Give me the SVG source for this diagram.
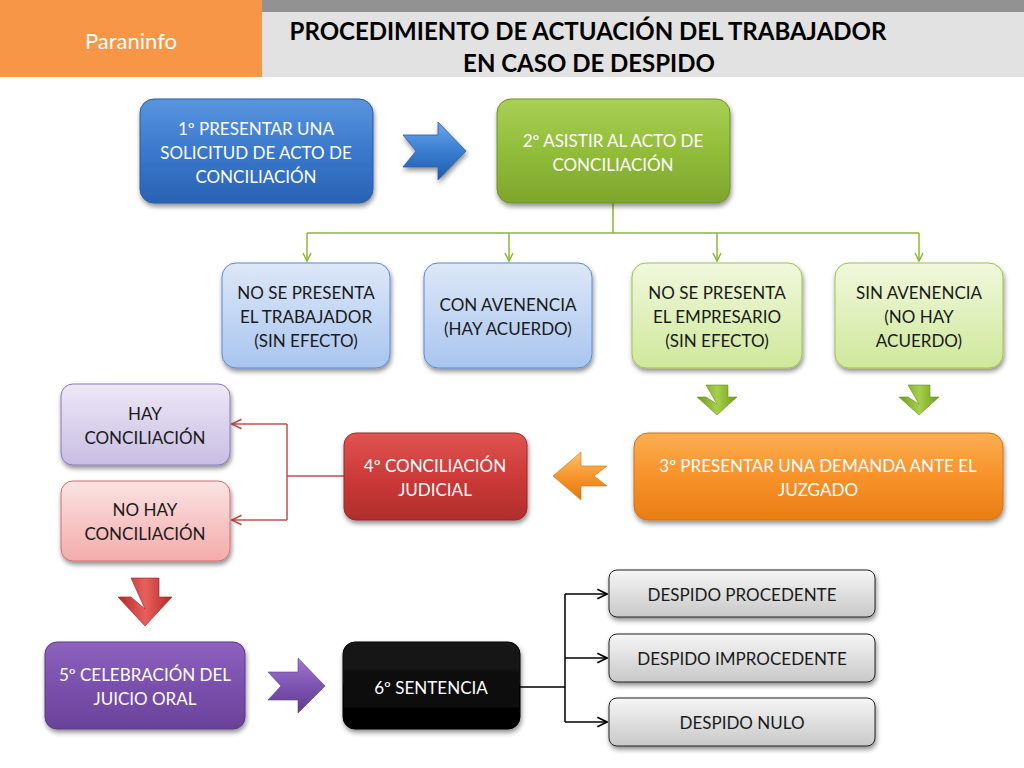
<svg xmlns="http://www.w3.org/2000/svg" width="1024" height="768" viewBox="0 0 1024 768">
<defs>
<style>
.t{font-family:Lato,"Liberation Sans",sans-serif;font-size:17px;text-anchor:middle;dominant-baseline:central}
.w{fill:#ffffff}
.d{fill:#1a1a1a}
.ttl{font-family:Lato,"Liberation Sans",sans-serif;font-size:24px;font-weight:bold;text-anchor:middle;fill:#000}
.box{filter:url(#sh)}
</style>
<filter id="sh" x="-10%" y="-10%" width="130%" height="140%">
<feGaussianBlur in="SourceAlpha" stdDeviation="2.5"/>
<feOffset dx="1" dy="3" result="o"/>
<feComponentTransfer><feFuncA type="linear" slope="0.45"/></feComponentTransfer>
<feMerge><feMergeNode/><feMergeNode in="SourceGraphic"/></feMerge>
</filter>
<linearGradient id="gBlue" x1="0" y1="0" x2="0" y2="1"><stop offset="0" stop-color="#5a95de"/><stop offset="0.5" stop-color="#3a78cc"/><stop offset="1" stop-color="#2a62b4"/></linearGradient>
<linearGradient id="gGreen" x1="0" y1="0" x2="0" y2="1"><stop offset="0" stop-color="#a9cf55"/><stop offset="0.5" stop-color="#92bd3a"/><stop offset="1" stop-color="#7da52c"/></linearGradient>
<linearGradient id="gLBlue" x1="0" y1="0" x2="0" y2="1"><stop offset="0" stop-color="#dde8f8"/><stop offset="1" stop-color="#a9c5ef"/></linearGradient>
<linearGradient id="gLGreen" x1="0" y1="0" x2="0" y2="1"><stop offset="0" stop-color="#f1f8dd"/><stop offset="1" stop-color="#cfe89a"/></linearGradient>
<linearGradient id="gOrange" x1="0" y1="0" x2="0" y2="1"><stop offset="0" stop-color="#fbae52"/><stop offset="0.5" stop-color="#f7922a"/><stop offset="1" stop-color="#ea7d14"/></linearGradient>
<linearGradient id="gRed" x1="0" y1="0" x2="0" y2="1"><stop offset="0" stop-color="#e05452"/><stop offset="0.5" stop-color="#cc3a38"/><stop offset="1" stop-color="#b02e2c"/></linearGradient>
<linearGradient id="gLav" x1="0" y1="0" x2="0" y2="1"><stop offset="0" stop-color="#ede8f6"/><stop offset="1" stop-color="#c9bde4"/></linearGradient>
<linearGradient id="gPink" x1="0" y1="0" x2="0" y2="1"><stop offset="0" stop-color="#fbe3e3"/><stop offset="1" stop-color="#f4abab"/></linearGradient>
<linearGradient id="gPurple" x1="0" y1="0" x2="0" y2="1"><stop offset="0" stop-color="#8e62bf"/><stop offset="0.5" stop-color="#7a50ad"/><stop offset="1" stop-color="#6a4299"/></linearGradient>
<linearGradient id="gBlack" x1="0" y1="0" x2="0" y2="1"><stop offset="0" stop-color="#1a1a1a"/><stop offset="1" stop-color="#000"/></linearGradient>
<linearGradient id="gGray" x1="0" y1="0" x2="0" y2="1"><stop offset="0" stop-color="#f6f6f6"/><stop offset="1" stop-color="#c8c8c8"/></linearGradient>
<linearGradient id="aBlue" x1="0" y1="0" x2="0" y2="1"><stop offset="0" stop-color="#6aa6ea"/><stop offset="0.5" stop-color="#3a7ed0"/><stop offset="1" stop-color="#1f5aa8"/></linearGradient>
<linearGradient id="aGreen" x1="0" y1="0" x2="1" y2="0"><stop offset="0" stop-color="#6f9a22"/><stop offset="0.5" stop-color="#a6d04a"/><stop offset="1" stop-color="#6f9a22"/></linearGradient>
<linearGradient id="aOrange" x1="0" y1="0" x2="0" y2="1"><stop offset="0" stop-color="#fcc46a"/><stop offset="0.5" stop-color="#f7952c"/><stop offset="1" stop-color="#e07810"/></linearGradient>
<linearGradient id="aRed" x1="0" y1="0" x2="1" y2="0"><stop offset="0" stop-color="#b22a28"/><stop offset="0.5" stop-color="#e8605c"/><stop offset="1" stop-color="#b22a28"/></linearGradient>
<linearGradient id="aPurple" x1="0" y1="0" x2="0" y2="1"><stop offset="0" stop-color="#a07ad0"/><stop offset="0.5" stop-color="#7d53b2"/><stop offset="1" stop-color="#5e3c8c"/></linearGradient>
<marker id="mG" viewBox="0 0 10 10" refX="9" refY="5" markerWidth="10" markerHeight="10" markerUnits="userSpaceOnUse" orient="auto"><path d="M1,1 L9,5 L1,9" fill="none" stroke="#8db832" stroke-width="1.5"/></marker>
<marker id="mR" viewBox="0 0 10 10" refX="9" refY="5" markerWidth="12" markerHeight="12" markerUnits="userSpaceOnUse" orient="auto"><path d="M1,1 L9,5 L1,9" fill="none" stroke="#c0504d" stroke-width="1.5"/></marker>
<marker id="mK" viewBox="0 0 10 10" refX="9" refY="5" markerWidth="12" markerHeight="12" markerUnits="userSpaceOnUse" orient="auto"><path d="M1,1 L9,5 L1,9" fill="none" stroke="#000" stroke-width="1.5"/></marker>
</defs>
<rect width="1024" height="768" fill="#ffffff"/>
<g id="header">
<rect x="0" y="0" width="262" height="77" fill="#f79646"/>
<rect x="262" y="0" width="762" height="12" fill="#929292"/>
<rect x="262" y="12" width="762" height="65" fill="#e2e2e2"/>
<text x="131" y="40" font-family="Lato,'Liberation Sans',sans-serif" font-size="22" fill="#fff" text-anchor="middle" dominant-baseline="central">Paraninfo</text>
<text class="ttl" x="588" y="30" dominant-baseline="central">PROCEDIMIENTO DE ACTUACIÓN DEL TRABAJADOR</text>
<text class="ttl" x="589" y="62" dominant-baseline="central">EN CASO DE DESPIDO</text>
</g>
<g id="connectors">
<path d="M613,203 V233 H307 M509,233 H919" fill="none" stroke="#8db832" stroke-width="1.5"/>
<line x1="307" y1="233" x2="307" y2="261" stroke="#8db832" stroke-width="1.5" marker-end="url(#mG)"/>
<line x1="509" y1="233" x2="509" y2="261" stroke="#8db832" stroke-width="1.5" marker-end="url(#mG)"/>
<line x1="717" y1="233" x2="717" y2="261" stroke="#8db832" stroke-width="1.5" marker-end="url(#mG)"/>
<line x1="919" y1="233" x2="919" y2="261" stroke="#8db832" stroke-width="1.5" marker-end="url(#mG)"/>
<path d="M344,476 H287 M287,424 V520" fill="none" stroke="#c0504d" stroke-width="1.5"/>
<line x1="287" y1="424" x2="232" y2="424" stroke="#c0504d" stroke-width="1.5" marker-end="url(#mR)"/>
<line x1="287" y1="520" x2="232" y2="520" stroke="#c0504d" stroke-width="1.5" marker-end="url(#mR)"/>
<path d="M520,687 H565 M565,594 V722" fill="none" stroke="#000" stroke-width="1.5"/>
<line x1="565" y1="594" x2="607" y2="594" stroke="#000" stroke-width="1.5" marker-end="url(#mK)"/>
<line x1="565" y1="658" x2="607" y2="658" stroke="#000" stroke-width="1.5" marker-end="url(#mK)"/>
<line x1="565" y1="722" x2="607" y2="722" stroke="#000" stroke-width="1.5" marker-end="url(#mK)"/>
<path id="arrowBlue" d="M403,135 H438 V122 L466,151 L438,180 V167 H403 L416,151 Z" fill="url(#aBlue)" stroke="#2a5fa8" stroke-width="0.8" class="box"/>
<path id="arrowGreen1" d="M706,385 H728 V397 H737 L717,415 L697,397 H706 L717,404 Z" fill="url(#aGreen)" stroke="#6a9020" stroke-width="0.6"/>
<path id="arrowGreen2" d="M908,385 H930 V397 H939 L919,415 L899,397 H908 L919,404 Z" fill="url(#aGreen)" stroke="#6a9020" stroke-width="0.6"/>
<path id="arrowOrange" d="M607,466 H581 V452 L553,476 L581,500 V486 H607 L594,476 Z" fill="url(#aOrange)" stroke="#d07010" stroke-width="0.6"/>
<path id="arrowRed" d="M131,578 H159 V597 H172 L145,626 L118,597 H131 L145,609 Z" fill="url(#aRed)" stroke="#a02020" stroke-width="0.6"/>
<path id="arrowPurple" d="M268,672 H298 V658 L325,686 L298,713 V700 H268 L281,686 Z" fill="url(#aPurple)" stroke="#5e3c8c" stroke-width="0.6"/>
</g>
<g id="n1"><rect class="box" x="140" y="99" width="233" height="104" rx="14" fill="url(#gBlue)" stroke="#2c5d9e" stroke-width="1"/>
<text class="t w" x="256" y="128">1º PRESENTAR UNA</text><text class="t w" x="256" y="152">SOLICITUD DE ACTO DE</text><text class="t w" x="256" y="176">CONCILIACIÓN</text></g>
<g id="n2"><rect class="box" x="497" y="99" width="233" height="104" rx="14" fill="url(#gGreen)" stroke="#6e9228" stroke-width="1"/>
<text class="t w" x="613" y="140">2º ASISTIR AL ACTO DE</text><text class="t w" x="613" y="164">CONCILIACIÓN</text></g>
<g id="nA"><rect class="box" x="222" y="263" width="168" height="105" rx="14" fill="url(#gLBlue)" stroke="#5a8ad0" stroke-width="1"/>
<text class="t d" x="306" y="292">NO SE PRESENTA</text><text class="t d" x="306" y="316">EL TRABAJADOR</text><text class="t d" x="306" y="340">(SIN EFECTO)</text></g>
<g id="nB"><rect class="box" x="424" y="263" width="168" height="105" rx="14" fill="url(#gLBlue)" stroke="#5a8ad0" stroke-width="1"/>
<text class="t d" x="508" y="304">CON AVENENCIA</text><text class="t d" x="508" y="328">(HAY ACUERDO)</text></g>
<g id="nC"><rect class="box" x="632" y="263" width="170" height="105" rx="14" fill="url(#gLGreen)" stroke="#9cc24e" stroke-width="1"/>
<text class="t d" x="717" y="292">NO SE PRESENTA</text><text class="t d" x="717" y="316">EL EMPRESARIO</text><text class="t d" x="717" y="340">(SIN EFECTO)</text></g>
<g id="nD"><rect class="box" x="835" y="263" width="168" height="105" rx="14" fill="url(#gLGreen)" stroke="#9cc24e" stroke-width="1"/>
<text class="t d" x="919" y="292">SIN AVENENCIA</text><text class="t d" x="919" y="316">(NO HAY</text><text class="t d" x="919" y="340">ACUERDO)</text></g>
<g id="n3"><rect class="box" x="634" y="433" width="369" height="87" rx="14" fill="url(#gOrange)" stroke="#d07416" stroke-width="1"/>
<text class="t w" x="818" y="465">3º PRESENTAR UNA DEMANDA ANTE EL</text><text class="t w" x="818" y="489">JUZGADO</text></g>
<g id="n4"><rect class="box" x="344" y="433" width="183" height="87" rx="12" fill="url(#gRed)" stroke="#9a2a28" stroke-width="1"/>
<text class="t w" x="435" y="465">4º CONCILIACIÓN</text><text class="t w" x="435" y="489">JUDICIAL</text></g>
<g id="nHay"><rect class="box" x="61" y="384" width="169" height="81" rx="12" fill="url(#gLav)" stroke="#8a78b8" stroke-width="1"/>
<text class="t d" x="145" y="413">HAY</text><text class="t d" x="145" y="437">CONCILIACIÓN</text></g>
<g id="nNoHay"><rect class="box" x="61" y="481" width="169" height="80" rx="12" fill="url(#gPink)" stroke="#d07070" stroke-width="1"/>
<text class="t d" x="145" y="509">NO HAY</text><text class="t d" x="145" y="533">CONCILIACIÓN</text></g>
<g id="n5"><rect class="box" x="45" y="642" width="200" height="87" rx="12" fill="url(#gPurple)" stroke="#5a3a88" stroke-width="1"/>
<text class="t w" x="145" y="674">5º CELEBRACIÓN DEL</text><text class="t w" x="145" y="698">JUICIO ORAL</text></g>
<g id="n6"><rect class="box" x="343" y="642" width="177" height="87" rx="12" fill="url(#gBlack)" stroke="#000" stroke-width="1"/>
<text class="t w" x="431" y="687">6º SENTENCIA</text></g>
<g id="nP"><rect class="box" x="609" y="570" width="266" height="47" rx="8" fill="url(#gGray)" stroke="#222" stroke-width="1"/>
<text class="t d" x="742" y="594">DESPIDO PROCEDENTE</text></g>
<g id="nI"><rect class="box" x="609" y="634" width="266" height="48" rx="8" fill="url(#gGray)" stroke="#222" stroke-width="1"/>
<text class="t d" x="742" y="658">DESPIDO IMPROCEDENTE</text></g>
<g id="nN"><rect class="box" x="609" y="698" width="266" height="48" rx="8" fill="url(#gGray)" stroke="#222" stroke-width="1"/>
<text class="t d" x="742" y="722">DESPIDO NULO</text></g>
</svg>
